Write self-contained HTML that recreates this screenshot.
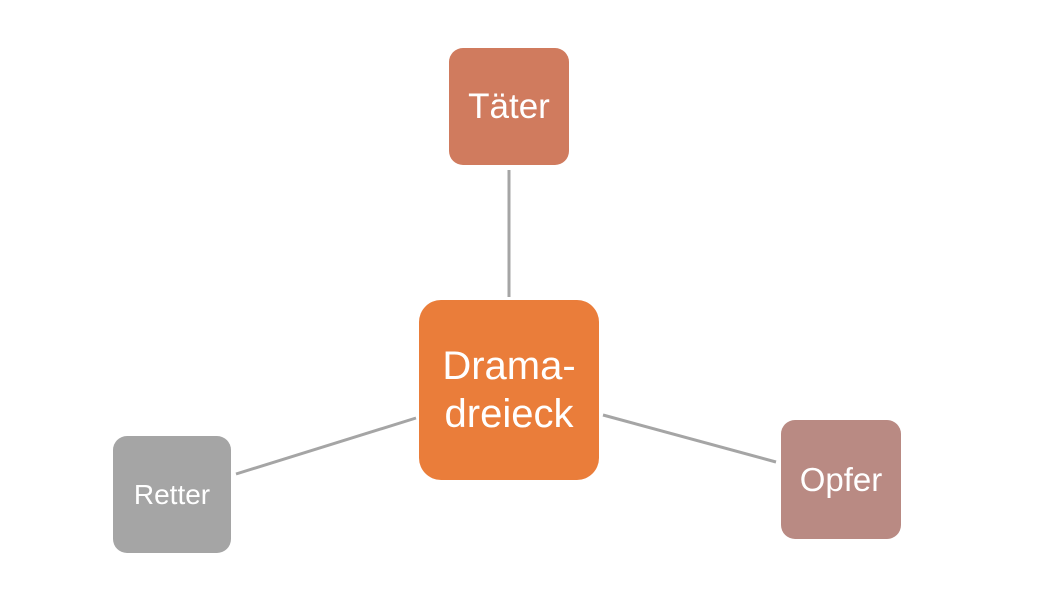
<!DOCTYPE html>
<html><head><meta charset="utf-8"><style>
body{margin:0;width:1048px;height:590px;background:#fff;position:relative;overflow:hidden;font-family:"Liberation Sans",sans-serif}
.b{position:absolute;color:#fff;display:flex;align-items:center;justify-content:center;text-align:center}
</style></head><body>
<svg width="1048" height="590" style="position:absolute;left:0;top:0">
<g stroke="#A5A5A5" stroke-width="3">
<line x1="509" y1="170" x2="509" y2="297"/>
<line x1="236" y1="474" x2="416" y2="418"/>
<line x1="603" y1="415" x2="776" y2="462"/>
</g></svg>
<div class="b" style="left:449px;top:48px;width:120px;height:117px;background:#D07B5E;border-radius:14px;font-size:35px">Täter</div>
<div class="b" style="left:419px;top:300px;width:180px;height:180px;background:#EA7D3A;border-radius:22px;font-size:40px;line-height:48px">Drama-<br>dreieck</div>
<div class="b" style="left:113px;top:436px;width:118px;height:117px;background:#A5A5A5;border-radius:14px;font-size:28px">Retter</div>
<div class="b" style="left:781px;top:420px;width:120px;height:119px;background:#B98A83;border-radius:14px;font-size:33px">Opfer</div>
</body></html>
